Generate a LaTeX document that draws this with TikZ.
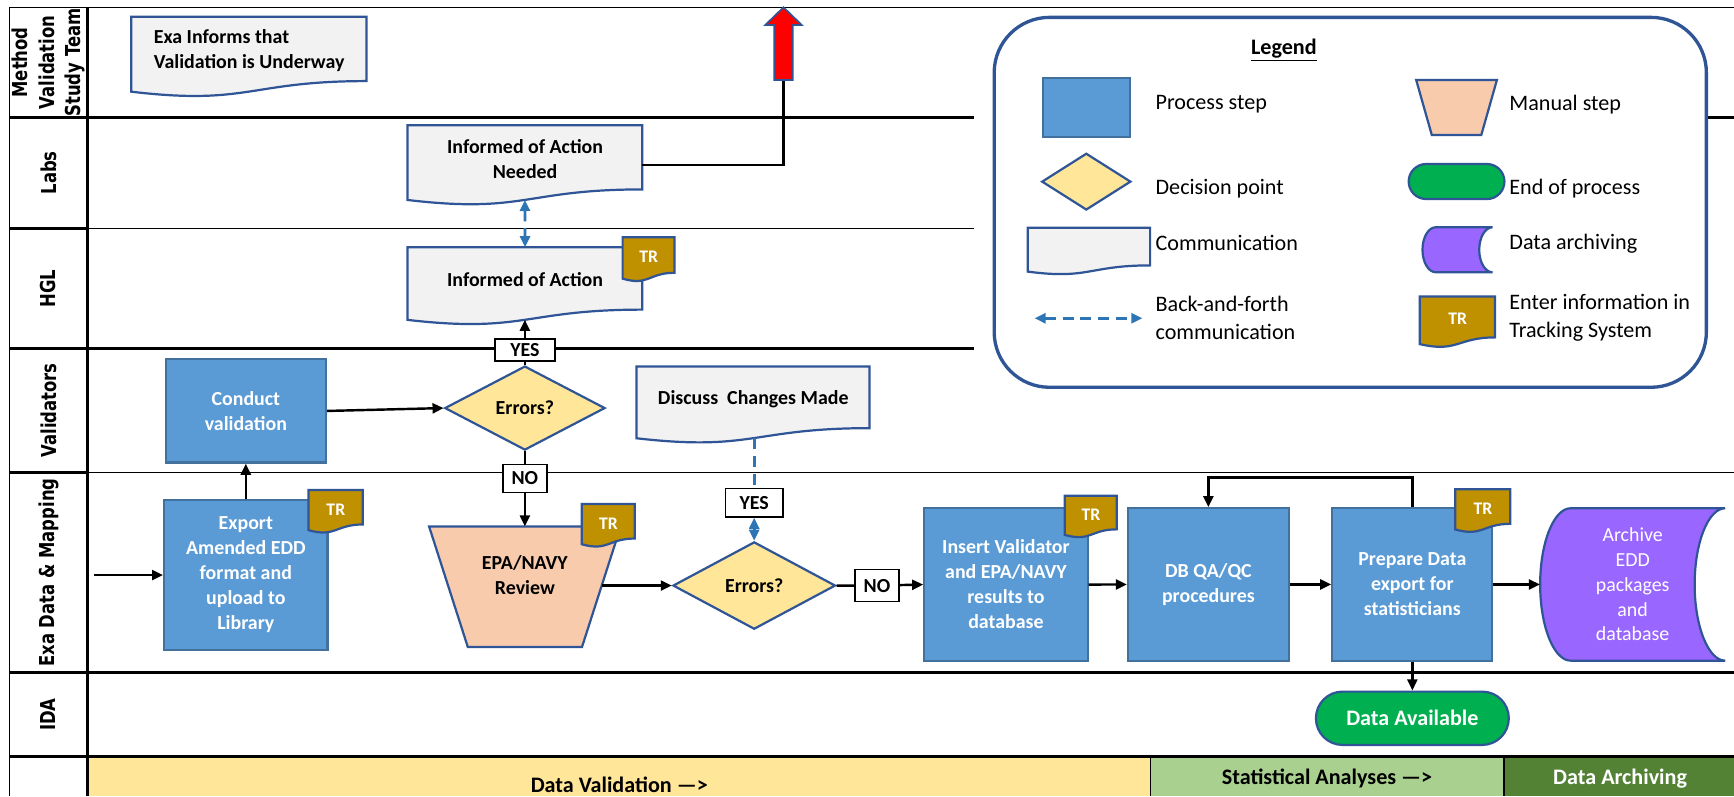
\documentclass[tikz,border=0pt]{standalone}
\usepackage{fontspec}
\setmainfont{Carlito}
\newfontfamily\lanefont[FakeStretch=0.8]{DejaVu Sans}
\usetikzlibrary{arrows.meta,shapes.geometric,calc}
\definecolor{procfill}{HTML}{5B9BD5}
\definecolor{procline}{HTML}{41719C}
\definecolor{dkblue}{HTML}{2F5597}
\definecolor{commfill}{HTML}{F2F2F2}
\definecolor{diafill}{HTML}{FFE699}
\definecolor{manfill}{HTML}{F8CBAD}
\definecolor{trfill}{HTML}{BF9000}
\definecolor{endfill}{HTML}{00B050}
\definecolor{archfill}{HTML}{9966FF}
\definecolor{dashblue}{HTML}{2E75B6}
\definecolor{phaseA}{HTML}{FFE699}
\definecolor{phaseB}{HTML}{A9D08E}
\definecolor{phaseC}{HTML}{548235}
\newcommand\docpath[5]{\path[#1] (#2,#3) -- ({#2+#4},#3) -- ({#2+#4},{#3+0.802*#5}) .. controls ({#2+0.5*#4},{#3+0.802*#5}) and ({#2+0.5*#4},{#3+1.1075*#5}) .. (#2,{#3+0.934*#5}) -- cycle;}
\begin{document}
\begin{tikzpicture}[x=1pt,y=-1pt,
  nfont/.style={font=\bfseries\fontsize{18}{22.6}\selectfont},
  proc/.style={rectangle, fill=procfill, draw=procline, line width=2pt, inner sep=0pt, text=white, nfont, align=center},
  dia/.style={diamond, aspect=2, fill=diafill, draw=dkblue, line width=2pt, inner sep=0pt, nfont},
  docbox/.style={rectangle, draw=none, inner sep=0pt, nfont, align=center},
  docstyle/.style={fill=commfill, draw=dkblue, line width=2pt},
  trstyle/.style={fill=trfill, draw=dkblue, line width=2pt},
  trtxt/.style={rectangle, draw=none, inner sep=0pt, text=white, font=\bfseries\fontsize{16}{19}\selectfont},
  lbl/.style={rectangle, fill=white, draw=black, line width=1.5pt, inner sep=0pt, nfont},
  term/.style={rectangle, fill=endfill, draw=dkblue, line width=2pt, inner sep=0pt, text=white, font=\bfseries\fontsize{20}{24}\selectfont},
  conn/.style={line width=2.2pt},
  arr/.style={line width=2.2pt, -{Triangle[length=10pt,width=9pt]}},
  dasharr/.style={draw=dashblue, line width=2.5pt, dash pattern=on 10pt off 6pt, {Triangle[length=10pt,width=9pt]}-{Triangle[length=10pt,width=9pt]}},
  lanelbl/.style={rotate=90, inner sep=0pt, align=center, font=\lanefont\bfseries\fontsize{18.6}{24}\selectfont},
  legtxt/.style={anchor=west, inner sep=0pt, align=left, font=\fontsize{20}{26}\selectfont},
  phase/.style={inner sep=0pt, font=\bfseries\fontsize{20}{24}\selectfont},
  thickl/.style={line width=2.6pt},
  thinl/.style={line width=1.3pt}]
\useasboundingbox (0,0) rectangle (1568,720);
% phase bar
\fill[phaseA] (78.9,684.2) rectangle (1040,720);
\fill[phaseB] (1040,684.2) rectangle (1360,720);
\fill[phaseC] (1360,684.2) rectangle (1568,720);
\draw[line width=1pt] (1040,684.2) -- (1040,720) (1360,684.2) -- (1360,720);
% swimlane frame
\draw[line width=1pt] (8.7,6.6) -- (1568,6.6);
\draw[line width=1.3pt] (8.7,6.6) -- (8.7,720);
\draw[thickl] (78.9,6.6) -- (78.9,720);
\draw[thickl] (8.7,106.1) -- (881,106.1) (1543,106.1) -- (1568,106.1);
\draw[thickl] (8.7,206.5) -- (78.9,206.5);
\draw[thinl] (78.9,206.5) -- (881,206.5);
\draw[thickl] (8.7,315) -- (881,315);
\draw[thickl] (8.7,427.4) -- (78.9,427.4);
\draw[thinl] (78.9,427.4) -- (1568,427.4);
\draw[thickl] (8.7,608.2) -- (1568,608.2);
\draw[line width=3pt] (8.7,684.2) -- (1568,684.2);
% lane labels
\node[lanelbl] (lmvst) at (43.8,56.4) {Method\\Validation\\Study Team};
\node[lanelbl] (llabs) at (43.8,156.3) {Labs};
\node[lanelbl] (lhgl) at (43.8,260.8) {HGL};
\node[lanelbl] (lval) at (43.8,371.2) {Validators};
\node[lanelbl] (lexa) at (43.8,517.8) {Exa Data \& Mapping};
\node[lanelbl] (lida) at (43.8,646.2) {IDA};
% phase labels
\node[phase] (ph1) at (560,709.8) {Data Validation —>};
\node[phase] (ph2) at (1200,703.7) {Statistical Analyses —>};
\node[phase, text=white] (ph3) at (1465,703.7) {Data Archiving};
% legend
\node[draw=dkblue, fill=white, line width=3pt, rounded corners=50pt, minimum width=644pt, minimum height=334.5pt, inner sep=0pt] (legend) at (1221,182.95) {};
\node[inner sep=0pt, font=\bfseries\fontsize{20}{24}\selectfont] (legtitle) at (1161,45.2) {\underline{Legend}};
\node[proc, minimum width=78.7pt, minimum height=53.1pt] (lproc) at (982.35,97.35) {};
\node[dia, minimum width=80.6pt, minimum height=51.3pt] (ldia) at (982.3,164.25) {};
\docpath{docstyle}{929.3}{205.9}{110.7}{42.5}
\node[docbox, anchor=north west, minimum width=110.7pt, minimum height=34pt] (lcomm) at (929.3,205.9) {};
\coordinate (la1) at (935.5,287.8);
\coordinate (la2) at (1033,287.8);
\draw[dasharr] (la1) -- (la2);
\draw[fill=manfill, draw=dkblue, line width=2pt] (1280.6,72.3) -- (1353.6,72.3) -- (1339.5,122) -- (1294.7,122) -- cycle;
\node[docbox, minimum width=73pt, minimum height=49.7pt] (lman) at (1317.1,97.15) {};
\node[term, minimum width=86.6pt, minimum height=31.7pt, rounded corners=15.85pt] (lend) at (1317.1,164.15) {};
\draw[fill=archfill, draw=dkblue, line width=2pt] (1298.3,205.5) -- (1349.6,205.5) .. controls (1343,205.5) and (1337.6,214.6) .. (1337.6,225.9) .. controls (1337.6,237.1) and (1343,246.2) .. (1349.6,246.2) -- (1298.3,246.2) .. controls (1291.7,246.2) and (1286.3,237.1) .. (1286.3,225.9) .. controls (1286.3,214.6) and (1291.7,205.5) .. (1298.3,205.5) -- cycle;
\node[docbox, minimum width=63.3pt, minimum height=40.7pt] (larch) at (1318,225.85) {};
\docpath{trstyle}{1283.9}{268.2}{68}{46}
\node[trtxt, anchor=north west, minimum width=68pt, minimum height=40.4pt] (ltr) at (1283.9,268.2) {TR};
\node[legtxt] (t1) at (1044.8,94.3) {Process step};
\node[legtxt] (t2) at (1044.8,170.3) {Decision point};
\node[legtxt] (t3) at (1044.8,220) {Communication};
\node[legtxt] (t4) at (1044.8,287.4) {Back-and-forth\\communication};
\node[legtxt] (t5) at (1364.7,94.3) {Manual step};
\node[legtxt] (t6) at (1364.7,170.3) {End of process};
\node[legtxt] (t7) at (1364.7,220) {Data archiving};
\node[legtxt] (t8) at (1364.7,287.4) {Enter information in\\Tracking System};
% method lane
\docpath{docstyle}{118.7}{15.1}{212.8}{72.6}
\node[docbox, anchor=north west, align=left, minimum width=212.8pt, minimum height=61.2pt] (exainf) at (118.7,15.1) {Exa Informs that\\Validation is Underway};
% labs lane
\docpath{docstyle}{368.5}{113.3}{212.3}{72.3}
\node[docbox, anchor=north west, minimum width=212.3pt, minimum height=59.8pt] (labs) at (368.5,113.3) {Informed of Action\\Needed};
\coordinate (labsE) at (580.8,149);
\coordinate (labsB) at (474.65,180.8);
\coordinate (redB) at (708.5,72.3);
\draw[conn] (labsE) -| (redB);
\draw[fill=red, draw=dkblue, line width=1.5pt] (700,72.3) -- (700,22.6) -- (692,22.6) -- (708.5,6.6) -- (725,22.6) -- (717,22.6) -- (717,72.3) -- cycle;
% HGL lane
\docpath{docstyle}{368.5}{223.6}{212.3}{70.3}
\node[docbox, anchor=north west, minimum width=212.3pt, minimum height=58.8pt] (hgl) at (368.5,223.6) {Informed of Action};
\coordinate (hglB) at (474.65,289.2);
\docpath{trstyle}{563}{214.6}{47}{40}
\node[trtxt, anchor=north west, minimum width=47pt, minimum height=35pt] (tr1) at (563,214.6) {TR};
\draw[dasharr] (labsB) -- (hgl.north);
% validators lane
\node[proc, minimum width=145pt, minimum height=93.4pt] (conduct) at (222.3,371.6) {Conduct\\validation};
\node[dia, minimum width=145pt, minimum height=76pt] (err1) at (474.65,369) {Errors?};
\docpath{docstyle}{575.6}{331.5}{210.7}{69.4}
\node[docbox, anchor=north west, minimum width=210.7pt, minimum height=58.4pt] (discuss) at (575.6,331.5) {Discuss\ \ Changes Made};
\coordinate (discB) at (682,396.3);
% exa lane
\coordinate (start) at (84.8,520);
\node[proc, minimum width=147.7pt, minimum height=136pt] (export) at (222.3,520) {Export\\Amended EDD\\format and\\upload to\\Library};
\docpath{trstyle}{279}{443}{49}{39}
\node[trtxt, anchor=north west, minimum width=49pt, minimum height=35pt] (tr2) at (279,443) {TR};
\draw[fill=manfill, draw=dkblue, line width=2pt] (388,476) -- (561.3,476) -- (526.3,585) -- (423,585) -- cycle;
\node[docbox, anchor=north, minimum width=173.3pt, minimum height=88pt] (epa) at (474.65,476) {EPA/NAVY\\Review};
\coordinate (epaE) at (544,529.5);
\docpath{trstyle}{526}{455.7}{48}{39}
\node[trtxt, anchor=north west, minimum width=48pt, minimum height=35pt] (tr3) at (526,455.7) {TR};
\node[dia, minimum width=147pt, minimum height=79pt] (err2) at (682,529.5) {Errors?};
\node[lbl, minimum width=54.4pt, minimum height=19.6pt] (yes1) at (474.65,316.6) {YES};
\node[lbl, minimum width=40pt, minimum height=25.5pt] (no1) at (474.65,432.7) {NO};
\node[lbl, minimum width=52pt, minimum height=25.6pt] (yes2) at (682,454.6) {YES};
\node[lbl, minimum width=40pt, minimum height=29pt] (no2) at (793,529.5) {NO};
\node[proc, minimum width=147.7pt, minimum height=138pt] (insert) at (909.65,528.6) {Insert Validator\\and EPA/NAVY\\results to\\database};
\docpath{trstyle}{962.8}{448.2}{47}{38}
\node[trtxt, anchor=north west, minimum width=47pt, minimum height=34pt] (tr4) at (962.8,448.2) {TR};
\node[proc, minimum width=145.4pt, minimum height=137.8pt] (dbqa) at (1092.7,528.5) {DB QA/QC\\procedures};
\node[proc, minimum width=144.7pt, minimum height=137.8pt] (prep) at (1277.15,528.5) {Prepare Data\\export for\\statisticians};
\docpath{trstyle}{1316}{442.4}{49.7}{39}
\node[trtxt, anchor=north west, minimum width=49.7pt, minimum height=35pt] (tr5) at (1316,442.4) {TR};
\draw[fill=archfill, draw=dkblue, line width=2pt] (1420.3,459.6) -- (1560,459.6) .. controls (1544.8,459.6) and (1532.4,490.5) .. (1532.4,528.5) .. controls (1532.4,566.6) and (1544.8,597.4) .. (1560,597.4) -- (1420.3,597.4) .. controls (1405.1,597.4) and (1392.7,566.6) .. (1392.7,528.5) .. controls (1392.7,490.5) and (1405.1,459.6) .. (1420.3,459.6) -- cycle;
\node[docbox, minimum width=167.3pt, minimum height=137.8pt, text=white, font=\fontsize{18}{22.4}\selectfont] (archive) at (1476.35,528.5) {Archive\\EDD\\packages\\and\\database};
% IDA lane
\node[term, minimum width=174.4pt, minimum height=48.2pt, rounded corners=24pt] (avail) at (1277.15,649.5) {Data Available};
% connectors
\draw[arr] (start) -- (export.west);
\draw[arr] (export.north) -- (conduct.south);
\draw[arr] (conduct.east) -- (err1.west);
\draw[arr] (err1.north) -- (yes1) -- (hglB);
\draw[arr] (err1.south) -- (no1) -- (epa.north);
\draw[arr] (epaE) -- (err2.west);
\draw[dasharr] (discB) -- (yes2) -- (err2.north);
\draw[arr] (err2.east) -- (no2) -- (insert.west);
\draw[arr] (insert.east) -- (dbqa.west);
\draw[arr] (dbqa.east) -- (prep.west);
\draw[arr] (prep.north) -- ++(0,-27) -| (dbqa.north);
\draw[arr] (prep.east) -- (archive.west);
\draw[arr] (prep.south) -- (avail.north);
\end{tikzpicture}
\end{document}
